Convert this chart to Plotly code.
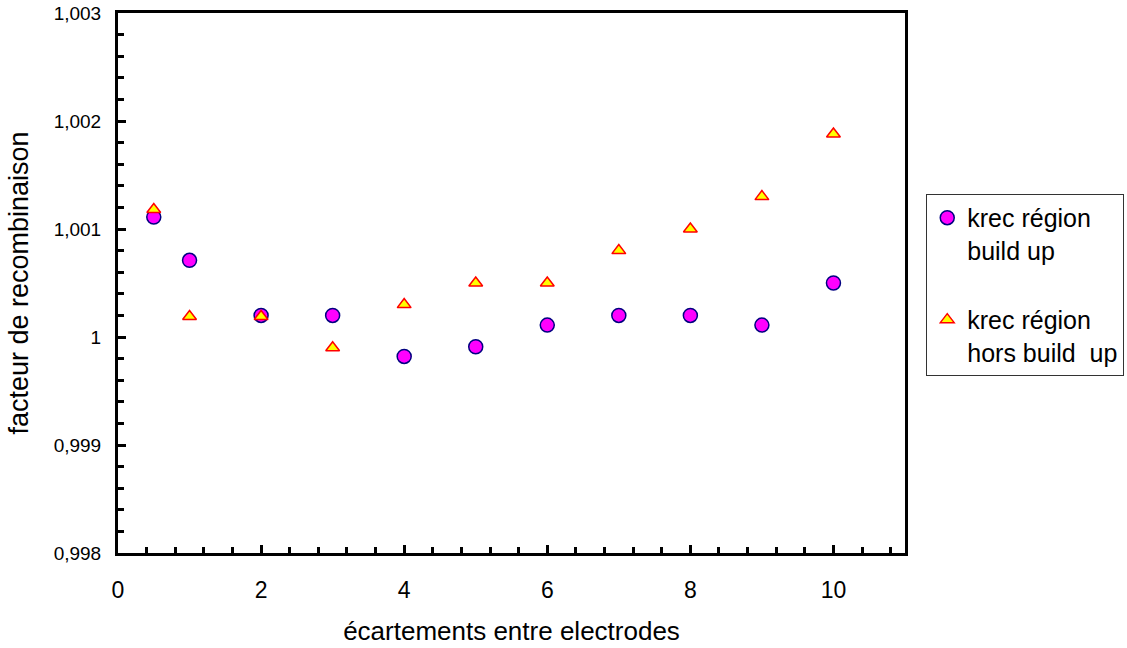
import plotly.graph_objects as go

# electrode gap (x) and recombination factor for both regions
gaps = [0.5, 1, 2, 3, 4, 5, 6, 7, 8, 9, 10]
krec_build_up = [1.00111, 1.00071, 1.0002, 1.0002, 0.99982, 0.99991, 1.00011, 1.0002, 1.0002, 1.00011, 1.0005]
krec_hors_build_up = [1.00118, 1.00019, 1.00019, 0.9999, 1.0003, 1.0005, 1.0005, 1.0008, 1.001, 1.0013, 1.00188]

x_ticks = [0, 2, 4, 6, 8, 10]
y_ticks = [0.998, 0.999, 1.0, 1.001, 1.002, 1.003]
y_labels = ["0,998", "0,999", "1", "1,001", "1,002", "1,003"]

FONT = "Liberation Sans, Arial, sans-serif"

fig = go.Figure()
fig.add_trace(go.Scatter(
    x=gaps, y=krec_build_up, mode="markers",
    name="krec région<br>build up", legendgroup="a",
    marker=dict(symbol="circle", size=14, color="#FF00FF",
                line=dict(color="#000080", width=1.5)),
))
fig.add_trace(go.Scatter(
    x=gaps, y=krec_hors_build_up, mode="markers",
    name="krec région<br>hors build  up", legendgroup="b",
    marker=dict(symbol="triangle-up", size=12, color="#FFFF00",
                line=dict(color="#FF0000", width=1.5)),
))

fig.update_layout(
    width=1127, height=648,
    margin=dict(l=118, r=222, t=13, b=95, autoexpand=False),
    paper_bgcolor="white", plot_bgcolor="white",
    font=dict(family=FONT, color="black"),
    showlegend=True,
    legend=dict(
        x=1.027, y=0.665, xanchor="left", yanchor="top",
        bordercolor="#333333", borderwidth=1, bgcolor="white",
        font=dict(size=25, family=FONT),
        tracegroupgap=34, traceorder="grouped", valign="top",
        itemwidth=30,
    ),
    xaxis=dict(
        range=[0, 11], tickvals=x_ticks, ticktext=[str(v) for v in x_ticks],
        ticks="inside", ticklen=8, tickwidth=3, tickcolor="black",
        minor=dict(dtick=0.4, tick0=0, ticks="inside", ticklen=6, tickwidth=3, tickcolor="black"),
        showline=True, linecolor="black", linewidth=3, mirror=True,
        showgrid=False, zeroline=False,
        tickfont=dict(size=23, family=FONT), ticklabelstandoff=14,
        title=dict(text="écartements entre electrodes", font=dict(size=26, family=FONT), standoff=21),
    ),
    yaxis=dict(
        range=[0.998, 1.003], tickvals=y_ticks, ticktext=y_labels,
        ticks="inside", ticklen=8, tickwidth=3, tickcolor="black",
        minor=dict(dtick=0.0002, tick0=0.998, ticks="inside", ticklen=6, tickwidth=3, tickcolor="black"),
        showline=True, linecolor="black", linewidth=3, mirror=True,
        showgrid=False, zeroline=False,
        tickfont=dict(size=19, family=FONT), ticklabelstandoff=10,
        title=dict(text="facteur de recombinaison", font=dict(size=27, family=FONT), standoff=18),
    ),
)

fig.write_html("out.html")
